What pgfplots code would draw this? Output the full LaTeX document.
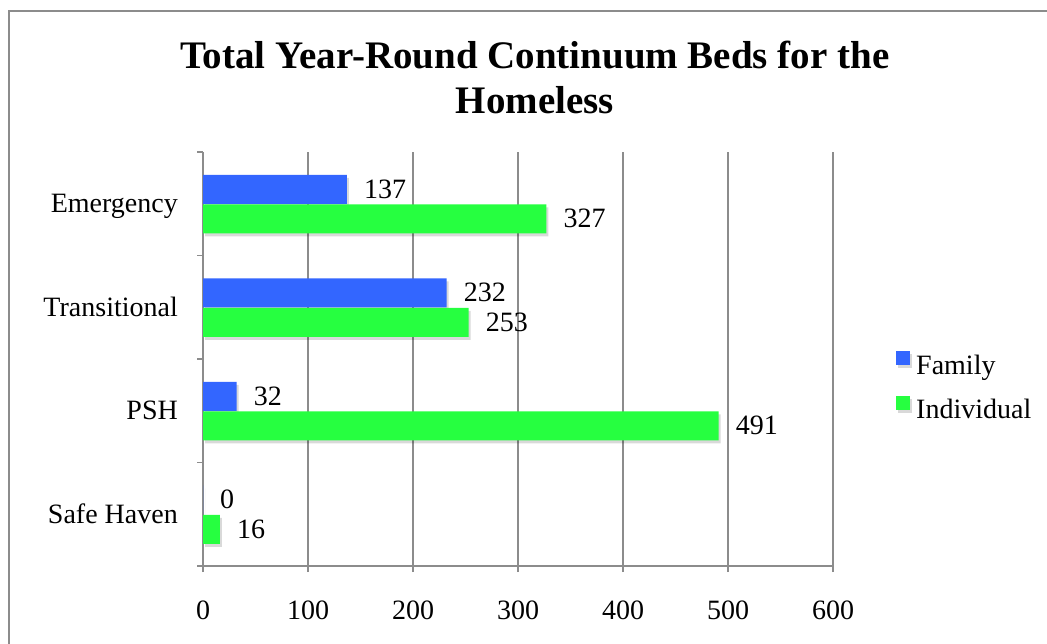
\documentclass[border=0pt]{standalone}
\usepackage{pgfplots}
\pgfplotsset{compat=1.18}
\usepackage{fontspec}
\setmainfont{Liberation Serif}
\definecolor{famblue}{RGB}{51,102,255}
\definecolor{indgreen}{RGB}{38,255,64}
\definecolor{framegray}{RGB}{140,140,140}
\begin{document}
\begin{tikzpicture}[x=1pt,y=1pt]
\useasboundingbox (0,0) rectangle (1047,643);
\fill[white] (0,0) rectangle (1047,643);
\draw[framegray, line width=2pt] (9,-5) -- (9,632) -- (1060,632);
\node[anchor=base, inner sep=0pt, font=\fontsize{39}{46}\selectfont\bfseries] at (535,574) {Total Year-Round Continuum Beds for the};
\node[anchor=base, inner sep=0pt, font=\fontsize{39}{46}\selectfont\bfseries] at (535,529) {Homeless};
\begin{axis}[
  at={(203pt,77pt)}, anchor=south west, scale only axis,
  width=630pt, height=414pt,
  xbar, bar width=29pt,
  xmin=0, xmax=600, ymin=-0.5, ymax=3.5,
  axis lines*=left,
  axis line style={framegray, line width=1.5pt},
  tick align=outside, major tick length=6pt,
  tick style={framegray, line width=1.5pt},
  xtick={0,100,...,600},
  xmajorgrids, grid style={framegray, line width=1.5pt},
  ytick={-0.5,0.5,1.5,2.5,3.5}, yticklabels={},
  extra y ticks={0,1,2,3},
  extra y tick labels={Safe Haven,PSH,Transitional,Emergency},
  extra y tick style={major tick length=0pt, tick style={draw=none}},
  yticklabel style={font=\fontsize{28}{33}\selectfont, anchor=base east, inner sep=0pt, xshift=-25pt, yshift=-9pt},
  xticklabel style={font=\fontsize{28}{33}\selectfont, anchor=north, inner sep=0pt, yshift=-29pt},
  /pgf/number format/assume math mode=true,
  nodes near coords,
  every node near coord/.append style={font=\fontsize{28}{33}\selectfont, anchor=west, inner sep=0pt, xshift=17pt, text=black},
  legend style={at={(1.1,0.432)}, anchor=west, draw=none, fill=none, inner sep=0pt,
    font=\fontsize{28}{33}\selectfont, row sep=17pt, nodes={inner sep=3pt},
    /tikz/every odd column/.append style={column sep=3pt}},
  legend cell align=left,
]
\addplot+[fill=famblue, draw=none, bar shift=14.5pt,
  preaction={fill=black, fill opacity=0.15, transform canvas={xshift=2pt,yshift=-3pt}},
  legend image code/.code={\fill[famblue] (0pt,0pt) rectangle (14pt,14pt);}]
  coordinates {(0,0) (32,1) (232,2) (137,3)};
\addplot+[fill=indgreen, draw=none, bar shift=-15pt,
  preaction={fill=black, fill opacity=0.15, transform canvas={xshift=2pt,yshift=-3pt}},
  legend image code/.code={\fill[indgreen] (0pt,0pt) rectangle (14pt,14pt);}]
  coordinates {(16,0) (491,1) (253,2) (327,3)};
\legend{Family,Individual}
\end{axis}
\end{tikzpicture}
\end{document}
